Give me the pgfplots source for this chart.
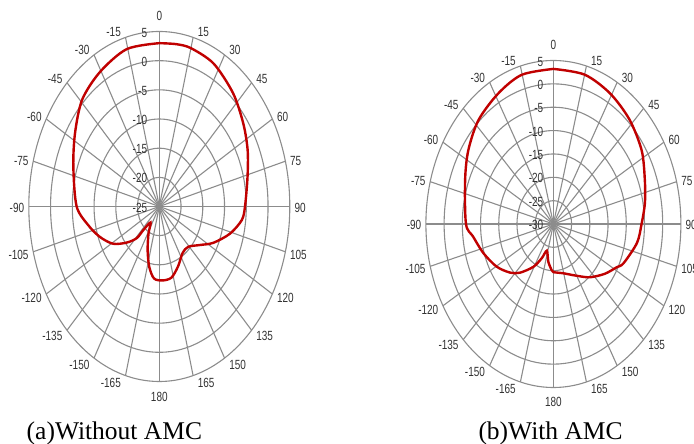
\documentclass[border=0pt]{standalone}
\usepackage{pgfplots}
\pgfplotsset{compat=1.18}
\usepackage{pgfplotstable}
\usepackage{graphicx}
\usepackage{fontspec}
\setmainfont{Liberation Serif}
\newfontfamily\labfont{Liberation Sans}

\definecolor{gridc}{RGB}{140,140,140}
\definecolor{curvec}{RGB}{192,0,0}
\definecolor{labc}{RGB}{50,50,50}

% angle (deg, clockwise from top) and gain (dB)
\pgfplotstableread{
a db
0 3.0
8 3.1
15 3.1
27 2.5
41 0.8
53.5 -1.0
64.5 -2.5
76 -4.1
90 -5.3
97 -5.9
106 -8.1
116.6 -11.1
125 -13.5
136 -15.4
146 -15.4
157 -13.9
167 -12.5
176.5 -12.3
185.6 -12.6
192.6 -14.4
199.6 -17.0
208 -19.7
216.3 -21.6
222.3 -19.5
223.7 -17.5
230.4 -15.3
239 -12.6
249 -10.4
258.7 -8.4
270 -6.0
289 -4.1
303 -1.9
316 0.5
329.5 1.8
344.5 3.0
360 3.0
}\dataA

\pgfplotstableread{
a db
0 3.2
15 3.1
29 2.0
43 0.6
57 -1.1
69.5 -3.2
80 -4.5
90 -5.8
100 -6.7
113.6 -9.0
118 -10.3
127 -12.3
138.6 -14.8
150 -17.2
165.5 -19.1
180 -19.7
182.7 -20.1
189.8 -21.8
197.5 -24.0
203.6 -22.0
211 -19.3
221.4 -16.1
228.8 -14.2
239.6 -11.95
252 -9.8
263 -7.8
270 -6.0
291.2 -4.0
304.1 -1.8
317.3 0.3
331.7 1.8
344.8 3.1
360 3.2
}\dataB

\begin{document}
\begin{tikzpicture}
\path[use as bounding box] (0,0) rectangle (694pt,444pt);
\coordinate (CA) at (159.3pt,237.5pt);
\coordinate (CB) at (553.4pt,220pt);
\tikzset{lab/.style={inner sep=0pt, text=labc, font=\labfont\fontsize{13.3}{15}\selectfont}}

% ---------- left grid ----------
\foreach \k in {1,...,6}
  \draw[gridc, line width=1.1pt] (CA) ellipse [x radius={\k*21.75pt}, y radius={\k*29.1667pt}];
\foreach \t in {0,15,...,345}
  \draw[gridc, line width=1.1pt] (CA) -- ++({130.5pt*sin(\t)},{175pt*cos(\t)});
\foreach \t in {15,30,...,165}
  \node[lab, anchor=west] at ([shift={({130.5pt*sin(\t)+4.5pt},{181.5pt*cos(\t)-1pt})}]CA) {\scalebox{0.75}[1]{\t}};
\foreach \t in {-15,-30,...,-165}
  \node[lab, anchor=east] at ([shift={({130.5pt*sin(\t)-4.5pt},{181.5pt*cos(\t)-1pt})}]CA) {\scalebox{0.75}[1]{\t}};
\node[lab, anchor=south] at ([shift={(0pt,185.7pt)}]CA) {\scalebox{0.75}[1]{0}};
\node[lab, anchor=north] at ([shift={(0pt,-185.3pt)}]CA) {\scalebox{0.75}[1]{180}};
\foreach \v/\k in {5/6,0/5,-5/4,-10/3,-15/2,-20/1,-25/0}
  \node[lab, anchor=east] at ([shift={(-12pt,{\k*29.1667pt-1pt})}]CA) {\scalebox{0.75}[1]{\v}};

% ---------- right grid ----------
\foreach \k in {1,...,7}
  \draw[gridc, line width=1.1pt] (CB) ellipse [x radius={\k*18.214pt}, y radius={\k*23.357pt}];
\foreach \t in {0,15,...,345}
  \draw[gridc, line width=1.1pt] (CB) -- ++({127.5pt*sin(\t)},{163.5pt*cos(\t)});
\foreach \t in {15,30,...,165}
  \node[lab, anchor=west] at ([shift={({127.5pt*sin(\t)+4.5pt},{170pt*cos(\t)-1pt})}]CB) {\scalebox{0.75}[1]{\t}};
\foreach \t in {-15,-30,...,-165}
  \node[lab, anchor=east] at ([shift={({127.5pt*sin(\t)-4.5pt},{170pt*cos(\t)-1pt})}]CB) {\scalebox{0.75}[1]{\t}};
\node[lab, anchor=south] at ([shift={(0pt,174.2pt)}]CB) {\scalebox{0.75}[1]{0}};
\node[lab, anchor=north] at ([shift={(0pt,-173.5pt)}]CB) {\scalebox{0.75}[1]{180}};
\foreach \v/\k in {5/7,0/6,-5/5,-10/4,-15/3,-20/2,-25/1,-30/0}
  \node[lab, anchor=east] at ([shift={(-10pt,{\k*23.357pt-1pt})}]CB) {\scalebox{0.75}[1]{\v}};

% ---------- data ----------
\begin{axis}[at={(CA)}, anchor=center, scale only axis, width=261pt, height=350pt,
  xmin=-30, xmax=30, ymin=-30, ymax=30, axis lines=none, clip=false]
\addplot[curvec, line width=2.4pt, smooth, tension=0.5]
  table[x expr={(\thisrow{db}+25)*sin(\thisrow{a})}, y expr={(\thisrow{db}+25)*cos(\thisrow{a})}] {\dataA};
\end{axis}
\begin{axis}[at={(CB)}, anchor=center, scale only axis, width=255pt, height=327pt,
  xmin=-35, xmax=35, ymin=-35, ymax=35, axis lines=none, clip=false]
\addplot[curvec, line width=2.4pt, smooth, tension=0.5]
  table[x expr={(\thisrow{db}+30)*sin(\thisrow{a})}, y expr={(\thisrow{db}+30)*cos(\thisrow{a})}] {\dataB};
\end{axis}

% ---------- captions ----------
\node[anchor=base west, inner sep=0pt, font=\fontsize{25.5}{30}\selectfont] at (26.5pt,4.7pt) {(a)Without AMC};
\node[anchor=base west, inner sep=0pt, font=\fontsize{25.5}{30}\selectfont] at (478.3pt,4.7pt) {(b)With AMC};
\end{tikzpicture}
\end{document}
